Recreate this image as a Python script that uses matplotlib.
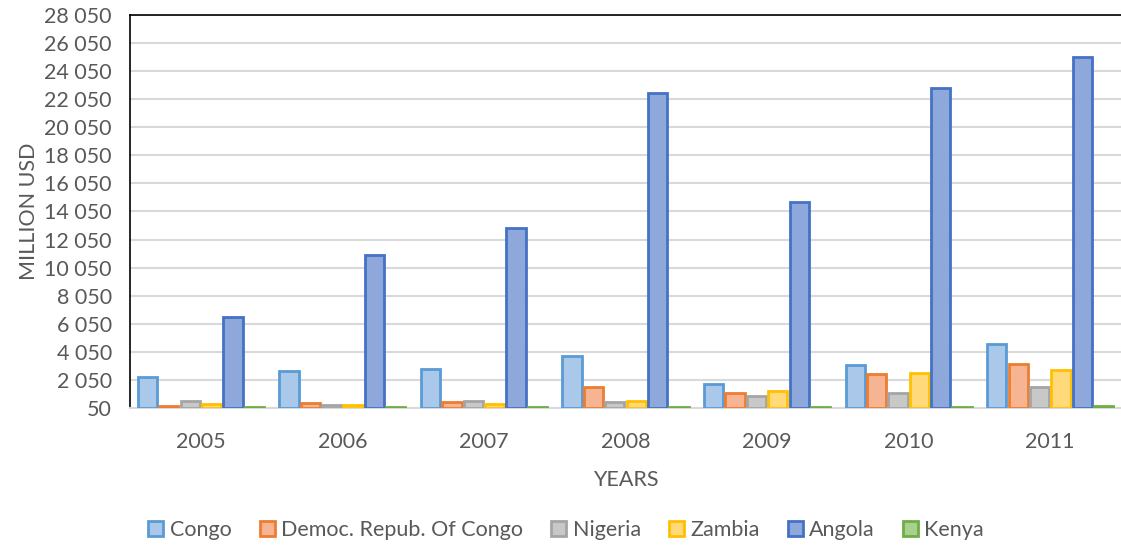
import numpy as np
import matplotlib
matplotlib.use('Agg')
from matplotlib import pyplot as plt
from matplotlib.ticker import FuncFormatter

years = ['2005', '2006', '2007', '2008', '2009', '2010', '2011']
countries = ['Congo', 'Democ. Repub. Of Congo', 'Nigeria', 'Zambia', 'Angola', 'Kenya']

congo = [2260, 2710, 2830, 3730, 1730, 3110, 4630]
drc = [170, 400, 450, 1520, 1090, 2470, 3200]
nigeria = [550, 290, 550, 450, 930, 1120, 1520]
zambia = [310, 290, 360, 550, 1280, 2540, 2730]
angola = [6560, 10970, 12880, 22490, 14700, 22850, 25030]
kenya = [110, 110, 110, 120, 110, 120, 190]

fills = ['#a9c8ea', '#f6b493', '#c8c8c8', '#ffd97a', '#8fa8dc', '#a9d18e']
edges = ['#5b9bd5', '#ed7d31', '#a5a5a5', '#ffc000', '#4472c4', '#70ad47']

grey = '#595959'
fs = 15.5
plt.rcParams['font.family'] = ['Lato', 'DejaVu Sans']

fig = plt.figure(figsize=(11.21, 5.45), dpi=100)
ax = fig.add_axes([0.116, 0.2514, 0.884, 0.7211])

base = 50
series = [congo, drc, nigeria, zambia, angola, kenya]
x = np.arange(len(years))
w = 0.151
for i, vals in enumerate(series):
    vals = np.array(vals)
    pos = x + (i - 2.5) * w
    ax.bar(pos, vals - base, bottom=base, width=w * 0.9, color=fills[i],
           edgecolor=edges[i], linewidth=2, label=countries[i], zorder=3)

ax.set_xlim(-0.5, len(years) - 0.5)
ax.set_ylim(50, 28050)
ax.set_yticks(np.arange(50, 28051, 2000))
ax.yaxis.set_major_formatter(FuncFormatter(lambda v, p: '{:,}'.format(int(v)).replace(',', ' ')))
ax.set_xticks(x)
ax.set_xticklabels(years)
ax.tick_params(axis='both', length=0, labelsize=fs, colors=grey)
ax.tick_params(axis='x', pad=17)
ax.tick_params(axis='y', pad=13)

ax.grid(axis='y', color='#d9d9d9', linewidth=1.5, zorder=0)
ax.set_axisbelow(True)
for s in ['top', 'left']:
    ax.spines[s].set_color('black')
    ax.spines[s].set_linewidth(1.2)
ax.spines['right'].set_visible(False)
ax.spines['bottom'].set_color('#d9d9d9')
ax.spines['bottom'].set_linewidth(1.5)

ax.set_xlabel('YEARS', fontsize=fs, color=grey, labelpad=13)
ax.set_ylabel('MILLION USD', fontsize=fs, color=grey, labelpad=4)

leg = fig.legend(loc='center', bbox_to_anchor=(0.505, 0.028), ncol=6, frameon=False,
                 fontsize=fs, handlelength=0.7, handleheight=0.7,
                 handletextpad=0.3, columnspacing=1.3)
for t in leg.get_texts():
    t.set_color(grey)

plt.savefig('out.png', dpi=100)
